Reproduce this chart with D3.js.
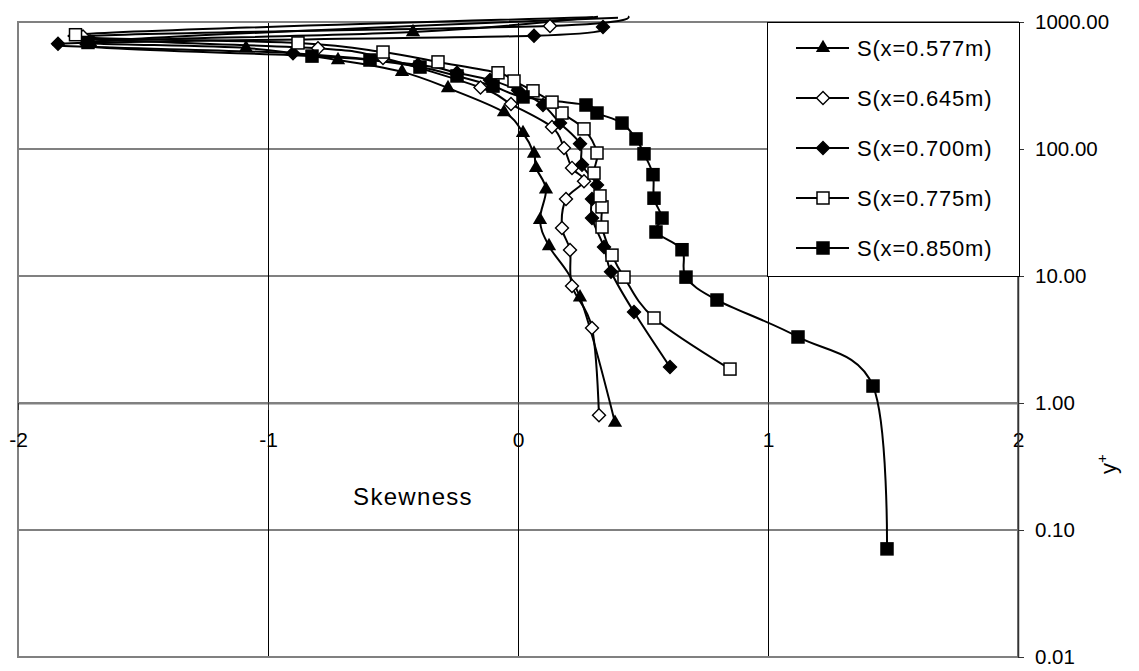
<!DOCTYPE html>
<html>
<head>
<meta charset="utf-8">
<script src="https://cdn.jsdelivr.net/npm/d3@7"></script>
<style>
    body { margin: 0; background: #fff; }
    svg { display: block; font-family: "Liberation Sans", Arial, sans-serif; }
</style>
</head>
<body>
<div id="chart-wrapper"></div>
<script>
// skewness / y+ profiles (bottom of the profile first)
const seriesNames = ["S(x=0.577m)", "S(x=0.645m)", "S(x=0.700m)", "S(x=0.775m)", "S(x=0.850m)"];

const skew577 = [0.388, 0.248, 0.124, 0.088, 0.112, 0.072, 0.064, 0.02, -0.056, -0.28, -0.464, -0.72, -1.088, -1.712, -0.42, 0.32];
const yp577   = [0.70, 6.8, 17.2, 27.6, 48, 71, 92, 134, 195, 302, 405, 502, 624, 697, 834, 1100];

const skew645 = [0.324, 0.296, 0.216, 0.208, 0.176, 0.192, 0.264, 0.216, 0.184, 0.136, -0.028, -0.15, -0.54, -0.8, -1.74, 0.128, 0.44];
const yp645   = [0.80, 3.9, 8.35, 16, 23.9, 40.4, 55.8, 71, 102, 149, 226, 305, 520, 620, 770, 931, 1106];

const skew700 = [0.608, 0.464, 0.372, 0.344, 0.296, 0.296, 0.316, 0.256, 0.248, 0.168, 0.1, 0.0, -0.112, -0.244, -0.4, -0.9, -1.84, 0.064, 0.34];
const yp700   = [1.92, 5.2, 10.8, 16.9, 28.6, 40.4, 52, 75, 110, 160, 222, 290, 350, 398, 460, 568, 673, 779, 912];

const skew775 = [0.848, 0.544, 0.424, 0.376, 0.336, 0.336, 0.328, 0.304, 0.316, 0.264, 0.176, 0.136, 0.06, -0.016, -0.08, -0.32, -0.54, -0.88, -1.77, 0.30];
const yp775   = [1.85, 4.67, 9.8, 14.6, 24.3, 35, 42.7, 64.6, 93, 144, 192, 234, 287, 343, 398, 485, 580, 684, 794, 1090];

const skew850 = [1.476, 1.42, 1.12, 0.796, 0.672, 0.656, 0.552, 0.576, 0.544, 0.54, 0.504, 0.472, 0.416, 0.316, 0.272, 0.02, -0.1, -0.244, -0.392, -0.592, -0.824, -1.72, 0.40];
const yp850   = [0.071, 1.36, 3.31, 6.47, 9.8, 16.1, 22.2, 28.6, 41, 62.8, 91.6, 120, 160, 192, 222, 257, 313, 376, 442, 502, 539, 690, 1080];

const xTicks = [-2, -1, 0, 1, 2];
const yTicks = [0.01, 0.1, 1, 10, 100, 1000];

const markers = ["triangle", "diamondOpen", "diamond", "squareOpen", "square"];

const table = [
    [skew577, yp577], [skew645, yp645], [skew700, yp700], [skew775, yp775], [skew850, yp850]
].map(([xs, ys], i) => ({
    name: seriesNames[i],
    marker: markers[i],
    points: xs.map((x, j) => ({ x: x, y: ys[j] }))
}));

const W = 1139, H = 671;
const plot = { left: 18, right: 1018, top: 22, bottom: 657 };

const svg = d3.select("#chart-wrapper").append("svg")
    .attr("width", W).attr("height", H);

const x = d3.scaleLinear().domain([-2, 2]).range([plot.left, plot.right]);
const y = d3.scaleLog().domain([0.01, 1000]).range([plot.bottom, plot.top]);

// grid
svg.append("g").selectAll("line")
    .data(yTicks)
    .join("line")
    .attr("x1", plot.left).attr("x2", plot.right)
    .attr("y1", d => y(d)).attr("y2", d => y(d))
    .attr("stroke", "#808080").attr("stroke-width", 2);

svg.append("g").selectAll("line")
    .data(xTicks.slice(1, -1))
    .join("line")
    .attr("x1", d => Math.round(x(d)) + 0.5).attr("x2", d => Math.round(x(d)) + 0.5)
    .attr("y1", plot.top).attr("y2", plot.bottom)
    .attr("stroke", "#000").attr("stroke-width", 1);

svg.append("rect")
    .attr("x", plot.left).attr("y", plot.top)
    .attr("width", plot.right - plot.left).attr("height", plot.bottom - plot.top)
    .attr("fill", "none").attr("stroke", "#808080").attr("stroke-width", 2);

// x axis crosses at y+ = 1
let xAxis = svg.append("g")
    .attr("transform", `translate(0,${y(1)})`)
    .call(d3.axisBottom(x).tickValues(xTicks).tickFormat(d3.format("d"))
        .tickSizeInner(7).tickSizeOuter(0).tickPadding(22));
xAxis.select(".domain").attr("stroke", "#808080").attr("stroke-width", 2);
xAxis.selectAll(".tick line").attr("stroke", "#333");
xAxis.selectAll("text").attr("font-size", 21).attr("fill", "#000")
    .text(d => d < 0 ? "-" + Math.abs(d) : d);

// y axis on the right, at skewness = 2
let yAxis = svg.append("g")
    .attr("transform", `translate(${x(2)},0)`)
    .call(d3.axisRight(y).tickValues(yTicks).tickFormat(d3.format(".2f"))
        .tickSizeInner(6).tickSizeOuter(0).tickPadding(11));
yAxis.select(".domain").attr("stroke", "#333").attr("stroke-width", 1.5);
yAxis.selectAll(".tick line").attr("stroke", "#333");
yAxis.selectAll("text").attr("font-size", 20.5).attr("fill", "#000");

svg.append("text")
    .attr("x", 413).attr("y", 505)
    .attr("text-anchor", "middle")
    .attr("font-size", 24).attr("letter-spacing", 1.3)
    .text("Skewness");

let yTitle = svg.append("text")
    .attr("transform", "translate(1116,464) rotate(-90)")
    .attr("text-anchor", "middle")
    .attr("font-size", 22);
yTitle.append("tspan").text("y");
yTitle.append("tspan").attr("dy", -9).attr("font-size", 15).text("+");

// lines + markers
const line = d3.line()
    .x(d => x(d.x)).y(d => y(d.y))
    .curve(d3.curveCardinal.tension(0));

function drawMarker(g, type) {
    if (type === "triangle") {
        g.append("path").attr("d", d3.symbol(d3.symbolTriangle, 88)())
            .attr("fill", "#000");
    } else if (type === "square" || type === "squareOpen") {
        g.append("rect").attr("x", -6).attr("y", -6).attr("width", 12).attr("height", 12)
            .attr("fill", type === "square" ? "#000" : "#fff")
            .attr("stroke", "#000").attr("stroke-width", 1.5);
    } else {
        g.append("rect").attr("x", -4.6).attr("y", -4.6).attr("width", 9.2).attr("height", 9.2)
            .attr("transform", "rotate(45)")
            .attr("fill", type === "diamond" ? "#000" : "#fff")
            .attr("stroke", "#000").attr("stroke-width", 1.4);
    }
}

table.forEach(s => {
    svg.append("path")
        .datum(s.points)
        .attr("d", line)
        .attr("fill", "none")
        .attr("stroke", "#000")
        .attr("stroke-width", 2);
});

table.forEach(s => {
    svg.append("g").selectAll("g")
        .data(s.points.filter(p => p.y <= 1000))
        .join("g")
        .attr("transform", d => `translate(${x(d.x)},${y(d.y)})`)
        .each(function () { drawMarker(d3.select(this), s.marker); });
});

// legend
let legend = svg.append("g");
legend.append("rect")
    .attr("x", 767.5).attr("y", 22.5).attr("width", 252).attr("height", 254)
    .attr("fill", "#fff").attr("stroke", "#000").attr("stroke-width", 1);

let items = legend.selectAll("g.item")
    .data(table)
    .join("g")
    .attr("class", "item")
    .attr("transform", (d, i) => `translate(823,${48 + i * 50})`);

items.append("line")
    .attr("x1", -27).attr("x2", 26)
    .attr("stroke", "#000").attr("stroke-width", 2);
items.each(function (d) { drawMarker(d3.select(this), d.marker); });
items.append("text")
    .attr("x", 34).attr("dy", "0.36em")
    .attr("font-size", 22).attr("letter-spacing", 0.8)
    .text(d => d.name);
</script>
</body>
</html>
